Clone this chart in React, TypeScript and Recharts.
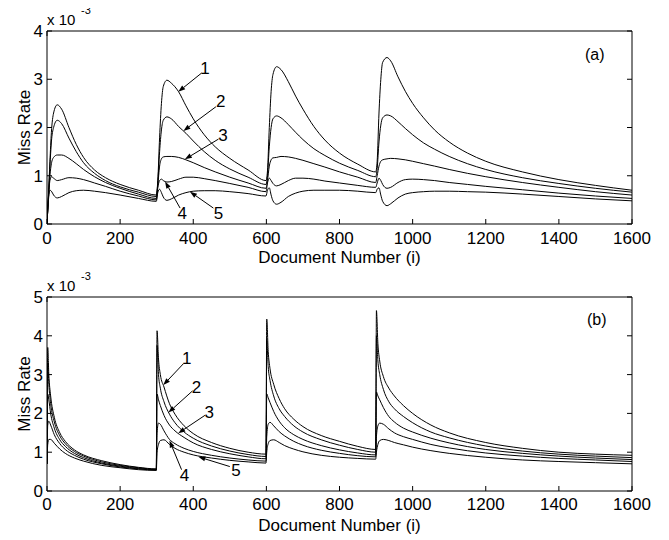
import React from "react";
import { LineChart, Line, XAxis, YAxis, ReferenceLine, ReferenceDot } from "recharts";

// panel (a): document numbers and miss rate (x 10^-3) of the five curves
const docsA = [
  0, 4, 8, 12, 18, 28, 40, 60, 80, 100, 130, 160, 200, 250, 299,
  303, 308, 313, 318, 328, 340, 360, 380, 400, 430, 460, 500, 550, 599,
  603, 608, 613, 618, 628, 640, 660, 680, 700, 730, 760, 800, 850, 899,
  903, 908, 913, 918, 930, 940, 960, 980, 1000, 1030, 1060, 1100, 1150, 1200, 1300, 1400, 1500, 1600,
];
const a1 = [
  0, 0.6, 1.3, 1.9, 2.3, 2.47, 2.38, 2.0, 1.65, 1.38, 1.12, 0.96, 0.82, 0.7, 0.6,
  0.9, 1.8, 2.5, 2.85, 2.98, 2.92, 2.74, 2.45, 2.18, 1.85, 1.6, 1.36, 1.12, 0.9,
  1.1, 2.0, 2.75, 3.1, 3.26, 3.2, 2.95, 2.65, 2.38, 2.02, 1.74, 1.47, 1.24, 1.08,
  1.3, 2.3, 3.0, 3.35, 3.45, 3.38, 3.05, 2.75, 2.5, 2.2, 1.95, 1.7, 1.47, 1.3, 1.08, 0.92, 0.8, 0.7,
];
const a2 = [
  0, 0.6, 1.2, 1.7, 2.0, 2.15, 2.08, 1.78, 1.5, 1.27, 1.05, 0.9, 0.77, 0.66, 0.57,
  0.85, 1.5, 1.95, 2.15, 2.22, 2.18, 2.02, 1.88, 1.72, 1.5, 1.32, 1.14, 0.97, 0.82,
  1.0, 1.6, 2.0, 2.18, 2.24, 2.2, 2.06, 1.9, 1.75, 1.56, 1.42, 1.26, 1.11, 0.98,
  1.15, 1.7, 2.05, 2.2, 2.26, 2.24, 2.12, 1.98, 1.85, 1.68, 1.55, 1.4, 1.25, 1.13, 0.96, 0.84, 0.74, 0.66,
];
const a3 = [
  0, 0.55, 1.0, 1.25, 1.38, 1.43, 1.43, 1.36, 1.25, 1.13, 0.98, 0.86, 0.74, 0.62, 0.53,
  0.8, 1.2, 1.35, 1.39, 1.4, 1.4, 1.38, 1.33, 1.27, 1.17, 1.08, 0.97, 0.85, 0.74,
  0.9, 1.2, 1.33, 1.37, 1.38, 1.4, 1.39, 1.36, 1.32, 1.25, 1.18, 1.08, 0.97, 0.86,
  1.0, 1.2, 1.3, 1.33, 1.35, 1.36, 1.35, 1.33, 1.3, 1.25, 1.2, 1.13, 1.05, 0.98, 0.86, 0.76, 0.67, 0.6,
];
const a4 = [
  0, 0.55, 0.9, 0.98, 0.95, 0.9, 0.92, 0.96, 0.95, 0.92, 0.85, 0.78, 0.68, 0.58, 0.5,
  0.75, 0.9, 0.93, 0.9, 0.87, 0.88, 0.93, 0.97, 0.97, 0.94, 0.9, 0.84, 0.76, 0.67,
  0.85, 0.95, 0.9, 0.84, 0.79, 0.82, 0.9, 0.95, 0.95, 0.93, 0.89, 0.85, 0.8, 0.76,
  0.85, 0.95, 0.9, 0.82, 0.74, 0.76, 0.86, 0.92, 0.93, 0.92, 0.9, 0.86, 0.82, 0.78, 0.71, 0.64, 0.58, 0.53,
];
const a5 = [
  0, 0.5, 0.7, 0.68, 0.6, 0.54, 0.57, 0.65, 0.69, 0.7, 0.68, 0.65, 0.6, 0.53, 0.47,
  0.65, 0.72, 0.65, 0.56, 0.49, 0.52, 0.6, 0.65, 0.68, 0.69, 0.69, 0.67, 0.63, 0.58,
  0.7, 0.75, 0.6, 0.48, 0.41, 0.45, 0.57, 0.64, 0.68, 0.7, 0.7, 0.7, 0.68, 0.65,
  0.72, 0.75, 0.6, 0.47, 0.38, 0.42, 0.54, 0.62, 0.65, 0.67, 0.68, 0.68, 0.67, 0.66, 0.62, 0.57, 0.52, 0.48,
];

// panel (b)
const docsB = [
  0, 2, 5, 10, 20, 35, 50, 75, 100, 150, 200, 250, 299,
  301, 305, 310, 320, 335, 350, 375, 400, 450, 500, 550, 599,
  601, 605, 610, 620, 635, 650, 675, 700, 750, 800, 850, 899,
  901, 905, 910, 920, 935, 950, 975, 1000, 1050, 1100, 1200, 1300, 1400, 1500, 1600,
];
const b1 = [
  0.7, 3.7, 3.0, 2.45, 1.9, 1.5, 1.28, 1.06, 0.93, 0.78, 0.68, 0.61, 0.57,
  4.13, 3.4, 3.0, 2.68, 2.25, 1.98, 1.68, 1.48, 1.25, 1.1, 1.0, 0.95,
  4.43, 3.6, 3.15, 2.75, 2.38, 2.12, 1.85, 1.66, 1.43, 1.28, 1.15, 1.07,
  4.65, 3.8, 3.35, 2.95, 2.65, 2.45, 2.2, 2.0, 1.7, 1.5, 1.25, 1.1, 1.0, 0.95, 0.92,
];
const b2 = [
  0.7, 3.3, 2.75, 2.25, 1.78, 1.42, 1.22, 1.02, 0.9, 0.75, 0.66, 0.6, 0.56,
  3.75, 3.0, 2.65, 2.3, 1.98, 1.76, 1.52, 1.36, 1.16, 1.03, 0.94, 0.89,
  3.9, 3.2, 2.85, 2.45, 2.12, 1.92, 1.68, 1.52, 1.32, 1.18, 1.07, 1.0,
  4.0, 3.35, 3.0, 2.62, 2.3, 2.12, 1.92, 1.76, 1.52, 1.37, 1.16, 1.03, 0.95, 0.9, 0.86,
];
const b3 = [
  0.7, 2.5, 2.35, 2.0, 1.62, 1.32, 1.15, 0.97, 0.86, 0.72, 0.64, 0.58, 0.55,
  2.5, 2.35, 2.2, 1.95, 1.7, 1.55, 1.38, 1.24, 1.07, 0.96, 0.88, 0.83,
  2.5, 2.4, 2.28, 2.05, 1.8, 1.63, 1.45, 1.33, 1.17, 1.06, 0.98, 0.93,
  2.55, 2.45, 2.35, 2.15, 1.92, 1.78, 1.62, 1.52, 1.36, 1.24, 1.07, 0.97, 0.9, 0.85, 0.81,
];
const b4 = [
  0.7, 1.7, 1.8, 1.7, 1.45, 1.22, 1.07, 0.92, 0.82, 0.7, 0.62, 0.57, 0.54,
  1.5, 1.75, 1.72, 1.55, 1.33, 1.22, 1.1, 1.02, 0.92, 0.85, 0.8, 0.77,
  1.4, 1.72, 1.77, 1.68, 1.53, 1.42, 1.28, 1.18, 1.05, 0.97, 0.91, 0.88,
  1.4, 1.68, 1.75, 1.72, 1.6, 1.5, 1.4, 1.33, 1.2, 1.11, 0.98, 0.9, 0.84, 0.8, 0.76,
];
const b5 = [
  0.7, 1.2, 1.33, 1.33, 1.23, 1.08, 0.97, 0.85, 0.77, 0.66, 0.6, 0.55, 0.53,
  1.0, 1.2, 1.3, 1.32, 1.2, 1.1, 1.0, 0.93, 0.85, 0.79, 0.75, 0.72,
  1.0, 1.22, 1.3, 1.32, 1.25, 1.17, 1.08, 1.01, 0.92, 0.87, 0.84, 0.82,
  1.0, 1.2, 1.3, 1.33, 1.3, 1.25, 1.19, 1.13, 1.04, 0.97, 0.87, 0.8, 0.76, 0.73, 0.7,
];

const xTicks = [0, 200, 400, 600, 800, 1000, 1200, 1400, 1600];
const yTicksA = [0, 1, 2, 3, 4];
const yTicksB = [0, 1, 2, 3, 4, 5];

// curve labels: text position, arrow start, arrow tip (data units)
const arrowsA = [
  { label: "1", at: [432, 3.23], from: [423, 3.13], to: [359, 2.74] },
  { label: "2", at: [475, 2.54], from: [462, 2.43], to: [373, 1.93] },
  { label: "3", at: [481, 1.84], from: [469, 1.76], to: [377, 1.34] },
  { label: "4", at: [370, 0.23], from: [364, 0.33], to: [323, 0.88] },
  { label: "5", at: [469, 0.23], from: [455, 0.33], to: [391, 0.67] },
];
const arrowsB = [
  { label: "1", at: [382, 3.42], from: [373, 3.28], to: [318, 2.73] },
  { label: "2", at: [409, 2.69], from: [398, 2.58], to: [332, 2.02] },
  { label: "3", at: [444, 2.04], from: [432, 1.95], to: [359, 1.49] },
  { label: "4", at: [376, 0.41], from: [368, 0.55], to: [335, 1.3] },
  { label: "5", at: [517, 0.54], from: [500, 0.63], to: [414, 0.88] },
];

const FONT = "'Liberation Sans', Arial, Helvetica, sans-serif";
const INK = "#000";

function buildRows(xs: number[], series: number[][]) {
  return xs.map((x, i) => {
    const row: Record<string, number> = { x };
    series.forEach((s, k) => {
      row[`s${k + 1}`] = s[i];
    });
    return row;
  });
}

const rowsA = buildRows(docsA, [a1, a2, a3, a4, a5]);
const rowsB = buildRows(docsB, [b1, b2, b3, b4, b5]);

function ArrowShape(props: any) {
  const { x1, y1, x2, y2 } = props;
  const dx = x2 - x1;
  const dy = y2 - y1;
  const len = Math.hypot(dx, dy) || 1;
  const ux = dx / len;
  const uy = dy / len;
  const hl = 7;
  const hw = 2.5;
  const bx = x2 - ux * hl;
  const by = y2 - uy * hl;
  const pts = `${x2},${y2} ${bx - uy * hw},${by + ux * hw} ${bx + uy * hw},${by - ux * hw}`;
  return (
    <g>
      <line x1={x1} y1={y1} x2={bx} y2={by} stroke={INK} strokeWidth={1} />
      <polygon points={pts} fill={INK} />
    </g>
  );
}

function missRateLabel(props: any) {
  const vb = props.viewBox || {};
  const cx = (vb.x ?? 0) + 24;
  const cy = (vb.y ?? 0) + (vb.height ?? 0) / 2;
  return (
    <text
      transform={`translate(${cx},${cy}) rotate(-90)`}
      textAnchor="middle"
      dominantBaseline="central"
      fontSize={17}
      fontFamily={FONT}
      fill={INK}
    >
      Miss Rate
    </text>
  );
}

type PanelProps = {
  rows: Record<string, number>[];
  yMax: number;
  yTicks: number[];
  arrows: { label: string; at: number[]; from: number[]; to: number[] }[];
  height: number;
  top: number;
  xAxisHeight: number;
  labelOffset: number;
  tickGap: number;
};

function Panel({ rows, yMax, yTicks, arrows, height, top, xAxisHeight, labelOffset, tickGap }: PanelProps) {
  const tickStyle = { fontSize: 17, fill: INK, fontFamily: FONT };
  return (
    <LineChart
      width={669}
      height={height}
      data={rows}
      margin={{ top, right: 36, bottom: 0, left: 0 }}
    >
      <XAxis
        dataKey="x"
        type="number"
        domain={[0, 1600]}
        ticks={xTicks}
        interval={0}
        height={xAxisHeight}
        tickSize={-5}
        tickMargin={tickGap}
        tick={tickStyle}
        stroke={INK}
        tickLine={{ stroke: INK }}
        allowDataOverflow
        label={{
          value: "Document Number (i)",
          position: "insideBottom",
          offset: labelOffset,
          fontSize: 17,
          fill: INK,
          fontFamily: FONT,
        }}
      />
      <XAxis
        xAxisId="top"
        orientation="top"
        type="number"
        domain={[0, 1600]}
        ticks={xTicks}
        interval={0}
        height={1}
        tickSize={-5}
        tickFormatter={() => ""}
        stroke={INK}
        allowDataOverflow
      />
      <YAxis
        type="number"
        domain={[0, yMax]}
        ticks={yTicks}
        interval={0}
        width={47}
        tickSize={-5}
        tickMargin={9}
        tick={tickStyle}
        stroke={INK}
        allowDataOverflow
        label={missRateLabel}
      />
      <YAxis
        yAxisId="right"
        orientation="right"
        type="number"
        domain={[0, yMax]}
        ticks={yTicks}
        interval={0}
        width={1}
        tickSize={-5}
        tickFormatter={() => ""}
        stroke={INK}
        allowDataOverflow
      />
      {["s1", "s2", "s3", "s4", "s5"].map((k) => (
        <Line
          key={k}
          dataKey={k}
          type="monotone"
          stroke={INK}
          strokeWidth={1}
          dot={false}
          activeDot={false}
          isAnimationActive={false}
        />
      ))}
      {arrows.map((a) => (
        <ReferenceLine
          key={`arr-${a.label}`}
          segment={[
            { x: a.from[0], y: a.from[1] },
            { x: a.to[0], y: a.to[1] },
          ]}
          shape={ArrowShape}
        />
      ))}
      {arrows.map((a) => (
        <ReferenceDot
          key={`lab-${a.label}`}
          x={a.at[0]}
          y={a.at[1]}
          r={0}
          fill="none"
          stroke="none"
          label={{ value: a.label, position: "center", fontSize: 17, fill: INK, fontFamily: FONT }}
        />
      ))}
    </LineChart>
  );
}

const abs = (left: number, top: number, size: number): React.CSSProperties => ({
  position: "absolute",
  left,
  top,
  fontSize: size,
  lineHeight: 1,
  fontFamily: FONT,
  color: INK,
  whiteSpace: "nowrap",
});

export default function App() {
  return (
    <div style={{ position: "relative", width: 669, height: 540, margin: "-8px 0 0 -8px", background: "#fff", overflow: "hidden" }}>
      <div style={{ position: "absolute", left: 0, top: 0 }}>
        <Panel rows={rowsA} yMax={4} yTicks={yTicksA} arrows={arrowsA} height={270} top={30} xAxisHeight={46} labelOffset={7} tickGap={13} />
      </div>
      <div style={{ position: "absolute", left: 0, top: 270 }}>
        <Panel rows={rowsB} yMax={5} yTicks={yTicksB} arrows={arrowsB} height={270} top={26} xAxisHeight={49} labelOffset={9} tickGap={12} />
      </div>
      <span style={abs(47, 12, 15)}>x 10</span>
      <span style={abs(81, 5, 11)}>-3</span>
      <span style={abs(47, 278, 15)}>x 10</span>
      <span style={abs(81, 271, 11)}>-3</span>
      <span style={abs(585, 47, 16)}>(a)</span>
      <span style={abs(587, 312, 16)}>(b)</span>
    </div>
  );
}
